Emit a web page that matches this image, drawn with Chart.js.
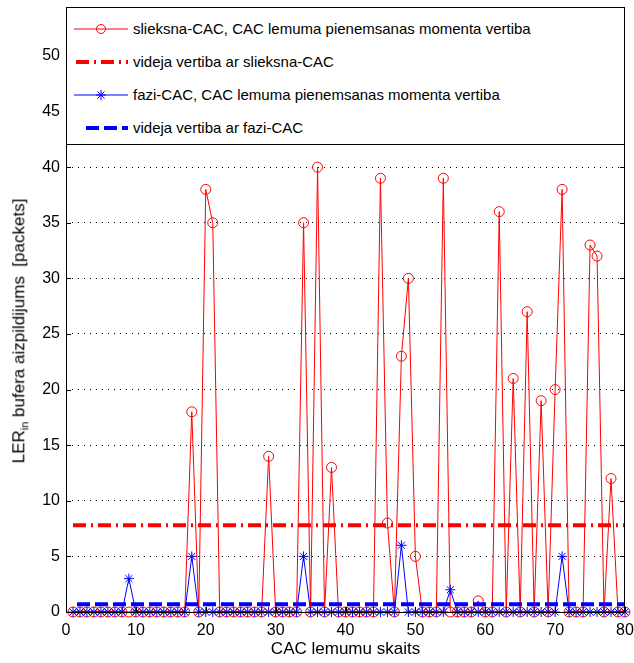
<!DOCTYPE html>
<html>
<head>
<meta charset="utf-8">
<script src="https://cdn.jsdelivr.net/npm/chart.js"></script>
<style>
  body { margin: 0; background: #fff; }
  #wrap { position: relative; width: 634px; height: 663px; }
  #legendBox { position: absolute; background: #fff; border: 1px solid #000; box-sizing: border-box; padding-top: 4px;
    font: 15px 'Liberation Sans', Arial, sans-serif; color: #000; }
  .row { height: 33px; display: flex; align-items: center; white-space: nowrap; }
  .row svg { margin-left: 6px; margin-right: 4px; flex: none; }
  #yTitle { position: absolute; left: 20px; top: 331px; transform: translate(-50%, -50%) rotate(-90deg);
    white-space: nowrap; font: 17px 'Liberation Sans', Arial, sans-serif; color: #000; }
  #yTitle sub { font-size: 11px; }
</style>
</head>
<body>
<div id="wrap">
  <canvas id="bufferChart"></canvas>
  <div id="legendBox"></div>
  <div id="yTitle">LER<sub>in</sub> bufera aizpildijums&nbsp; [packets]</div>
</div>
<script>
// slieksna-CAC buffer fill at each CAC decision (1..80)
const slieksna = [
  0, 0, 0, 0, 0, 0, 0, 0, 0, 0,
  0, 0, 0, 0, 0, 0, 0, 18, 0, 38,
  35, 0, 0, 0, 0, 0, 0, 0, 14, 0,
  0, 0, 0, 35, 0, 40, 0, 13, 0, 0,
  0, 0, 0, 0, 39, 8, 0, 23, 30, 5,
  0, 0, 0, 39, 0, 0, 0, 0, 1, 0,
  0, 36, 0, 21, 0, 27, 0, 19, 0, 20,
  38, 0, 0, 0, 33, 32, 0, 12, 0, 0
];
// fazi-CAC buffer fill at each CAC decision
const fazi = [
  0, 0, 0, 0, 0, 0, 0, 0, 3, 0,
  0, 0, 0, 0, 0, 0, 0, 5, 0, 0,
  0, 0, 0, 0, 0, 0, 0, 0, 0, 0,
  0, 0, 0, 5, 0, 0, 0, 0, 0, 0,
  0, 0, 0, 0, 0, 0, 0, 6, 0, 0,
  0, 0, 0, 0, 2, 0, 0, 0, 0, 0,
  0, 0, 0, 0, 0, 0, 0, 0, 0, 0,
  5, 0, 0, 0, 0, 0, 0, 0, 0, 0
];
const slieksnaMean = 7.8;
const faziMean = 0.7;
const meanSpan = [1, 80];

const xTicks = [0, 10, 20, 30, 40, 50, 60, 70, 80];
const yTicks = [0, 5, 10, 15, 20, 25, 30, 35, 40, 45, 50];

const labels = [
  'slieksna-CAC, CAC lemuma pienemsanas momenta vertiba',
  'videja vertiba ar slieksna-CAC',
  'fazi-CAC, CAC lemuma pienemsanas momenta vertiba',
  'videja vertiba ar fazi-CAC'
];

const RED = '#ff0000';
const BLUE = '#0000ff';

const toPoints = arr => arr.map((v, i) => ({ x: i + 1, y: v }));
const meanLine = v => meanSpan.map(x => ({ x: x, y: v }));

const framePlugin = {
  id: 'frame',
  afterDraw(chart) {
    const { ctx, chartArea: a, scales: { x, y } } = chart;
    ctx.save();
    ctx.strokeStyle = '#000';
    ctx.lineWidth = 1;
    ctx.strokeRect(a.left + 0.5, a.top + 0.5, a.right - a.left - 1, a.bottom - a.top);
    ctx.beginPath();
    yTicks.forEach(v => {
      const py = Math.round(y.getPixelForValue(v)) + 0.5;
      ctx.moveTo(a.left, py); ctx.lineTo(a.left + 5, py);
      ctx.moveTo(a.right, py); ctx.lineTo(a.right - 5, py);
    });
    xTicks.forEach(v => {
      const px = Math.round(x.getPixelForValue(v)) + 0.5;
      ctx.moveTo(px, a.bottom); ctx.lineTo(px, a.bottom - 5);
    });
    ctx.stroke();
    ctx.restore();
  }
};

Chart.defaults.font.family = "'Liberation Sans', Arial, sans-serif";
Chart.defaults.color = '#000';

const chart = new Chart(document.getElementById('bufferChart'), {
  type: 'line',
  data: {
    datasets: [
      {
        label: labels[0], data: toPoints(slieksna), order: 4,
        borderColor: RED, borderWidth: 1, tension: 0, clip: false,
        pointStyle: 'circle', pointRadius: 5, pointBorderWidth: 1,
        pointBorderColor: RED, pointBackgroundColor: 'rgba(0,0,0,0)'
      },
      {
        label: labels[1], data: meanLine(slieksnaMean), order: 3,
        borderColor: RED, borderWidth: 4, borderDash: [13, 5, 2, 5], pointRadius: 0
      },
      {
        label: labels[2], data: toPoints(fazi), order: 2,
        borderColor: BLUE, borderWidth: 1, tension: 0, clip: false,
        pointStyle: 'star', pointRadius: 5, pointBorderWidth: 1,
        pointBorderColor: BLUE, pointBackgroundColor: BLUE
      },
      {
        label: labels[3], data: meanLine(faziMean), order: 1,
        borderColor: BLUE, borderWidth: 4, borderDash: [13, 5], borderDashOffset: -4, pointRadius: 0
      }
    ]
  },
  options: {
    responsive: true,
    maintainAspectRatio: false,
    animation: false,
    layout: { padding: { top: 7, right: 9, left: 0, bottom: 0 } },
    plugins: { legend: { display: false }, tooltip: { enabled: false } },
    scales: {
      x: {
        type: 'linear', min: 0, max: 80,
        afterBuildTicks: s => { s.ticks = xTicks.map(v => ({ value: v })); },
        afterFit: s => { s.height = 51; s.paddingLeft = 0; s.paddingRight = 0; },
        grid: { display: false, drawTicks: false },
        border: { display: false },
        ticks: { padding: 9, font: { size: 16 }, maxRotation: 0 },
        title: { display: true, text: 'CAC lemumu skaits', font: { size: 17 }, padding: { top: 0, bottom: 3 } }
      },
      y: {
        min: 0, max: 54.4,
        afterBuildTicks: s => { s.ticks = yTicks.map(v => ({ value: v })); },
        afterFit: s => { s.width = 66; s.paddingTop = 0; s.paddingBottom = 0; },
        grid: {
          drawTicks: false, lineWidth: 1,
          color: c => (c.tick && c.tick.value === 0) ? 'rgba(0,0,0,0)' : '#000'
        },
        border: { display: false, dash: [1, 5] },
        ticks: { padding: 6, font: { size: 16 } }
      }
    }
  },
  plugins: [framePlugin]
});

// legend overlay inside the top of the plot box
const symbols = [
  '<line x1="1" y1="7" x2="55" y2="7" stroke="' + RED + '"/><circle cx="28" cy="7" r="4.5" fill="none" stroke="' + RED + '"/>',
  '<line x1="3" y1="7" x2="55" y2="7" stroke="' + RED + '" stroke-width="4" stroke-dasharray="13 5 2 5"/>',
  '<line x1="1" y1="7" x2="55" y2="7" stroke="' + BLUE + '"/>' +
    '<path d="M28 2V12M23 7H33M24.5 3.5L31.5 10.5M31.5 3.5L24.5 10.5" stroke="' + BLUE + '"/>',
  '<line x1="13" y1="7" x2="55" y2="7" stroke="' + BLUE + '" stroke-width="4" stroke-dasharray="13 5"/>'
];

const box = document.getElementById('legendBox');
const area = chart.chartArea;
box.style.left = area.left + 'px';
box.style.top = area.top + 'px';
box.style.width = (area.right - area.left) + 'px';
box.style.height = '138px';
labels.forEach((txt, i) => {
  const row = document.createElement('div');
  row.className = 'row';
  row.innerHTML = '<svg width="56" height="14">' + symbols[i] + '</svg><span>' + txt + '</span>';
  box.appendChild(row);
});
</script>
</body>
</html>
